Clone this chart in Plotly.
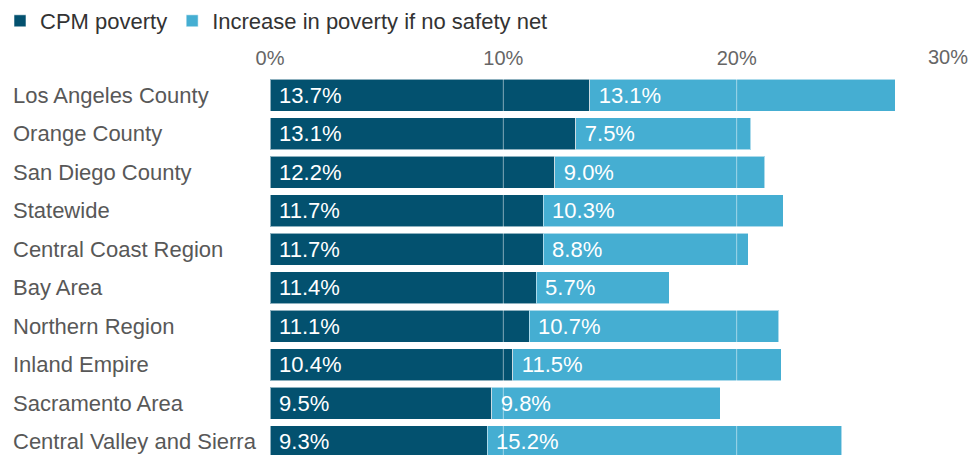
import plotly.graph_objects as go

regions = [
    "Los Angeles County", "Orange County", "San Diego County", "Statewide",
    "Central Coast Region", "Bay Area", "Northern Region", "Inland Empire",
    "Sacramento Area", "Central Valley and Sierra",
]
cpm_poverty = [13.7, 13.1, 12.2, 11.7, 11.7, 11.4, 11.1, 10.4, 9.5, 9.3]
increase_no_net = [13.1, 7.5, 9.0, 10.3, 8.8, 5.7, 10.7, 11.5, 9.8, 15.2]
x_tick_vals = [0, 10, 20, 30]
x_tick_text = ["0%", "10%", "20%", "30%"]

DARK = "#03516F"
LIGHT = "#45AED2"
FONT = "Liberation Sans, Arial, sans-serif"
FS = 22
TICK_FS = 20

fig = go.Figure()
for name, vals, col in [("CPM poverty", cpm_poverty, DARK),
                        ("Increase in poverty if no safety net", increase_no_net, LIGHT)]:
    fig.add_bar(
        y=regions, x=vals, orientation="h", name=name,
        marker=dict(color=col, line=dict(color="rgba(255,255,255,0.55)", width=1)),
        texttemplate="\u00a0%{x:.1f}%", textposition="inside",
        insidetextanchor="start",
        textfont=dict(color="white", size=FS, family=FONT),
        hoverinfo="skip",
    )

# gridlines drawn over the bars
for v in x_tick_vals[1:-1]:
    fig.add_shape(type="line", xref="x", yref="paper", x0=v, x1=v, y0=0, y1=1,
                  line=dict(color="rgba(255,255,255,0.5)", width=1), layer="above")

# left-aligned category labels
for r in regions:
    fig.add_annotation(text=r, xref="paper", x=-259 / 700, xanchor="left",
                       yref="y", y=r, showarrow=False,
                       font=dict(size=FS, color="#585858", family=FONT))

# last tick label kept inside the page
fig.add_annotation(text=x_tick_text[-1], xref="x", x=x_tick_vals[-1], xanchor="right",
                   yref="paper", y=1, yanchor="bottom", yshift=6, showarrow=False,
                   font=dict(size=TICK_FS, color="#666666", family=FONT))

fig.update_layout(
    width=974, height=455,
    margin=dict(l=270, r=4, t=76, b=0),
    barmode="stack", bargap=0.17,
    plot_bgcolor="white", paper_bgcolor="white",
    font=dict(family=FONT, size=FS, color="#333333"),
    showlegend=True,
    legend=dict(orientation="h", xref="container", yref="container",
                x=0.0, y=1.0, xanchor="left", yanchor="top",
                font=dict(size=FS, color="#333333"), itemwidth=30,
                traceorder="normal", bgcolor="rgba(0,0,0,0)"),
    xaxis=dict(side="top", range=[0, 30], tickvals=x_tick_vals[:-1],
               ticktext=x_tick_text[:-1], showgrid=False, zeroline=False,
               showline=False, ticks="", ticklabelstandoff=6,
               tickfont=dict(size=TICK_FS, color="#666666", family=FONT), fixedrange=True),
    yaxis=dict(categoryorder="array", categoryarray=regions,
               range=[9.344, -0.5], showticklabels=False, showgrid=False,
               zeroline=False, showline=False, ticks="", fixedrange=True),
)

fig.write_html("out.html")
